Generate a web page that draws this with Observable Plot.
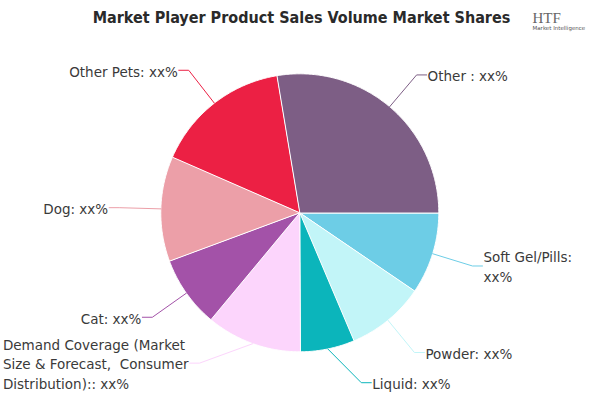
<!DOCTYPE html>
<html><head><meta charset="utf-8">
<script src="https://cdn.jsdelivr.net/npm/d3@7"></script>
<script src="https://cdn.jsdelivr.net/npm/@observablehq/plot@0.6"></script>
<style>body{margin:0;background:#fff} #chart{width:600px;height:400px;overflow:hidden}</style>
</head><body><div id="chart"></div>
<script>
const categories = ["Soft Gel/Pills","Powder","Liquid","Demand Coverage (Market Size & Forecast, Consumer Distribution)","Cat","Dog","Other Pets","Other"];
const shares = [9.5, 9.1, 6.3, 11.1, 8.3, 12.2, 15.8, 27.6];
const labels = ["Soft Gel/Pills:\nxx%","Powder: xx%","Liquid: xx%","Demand Coverage (Market\nSize & Forecast,  Consumer\nDistribution):: xx%","Cat: xx%","Dog: xx%","Other Pets: xx%","Other : xx%"];
const colors = ["#6dcde6","#c2f5f8","#0bb5bb","#fcd5fc","#a352a8","#ec9fa8","#ec2044","#7d5e85"];
const title = "Market Player Product Sales Volume Market Shares";

const W=600,H=400,CX=299.3,CY=212.3,R=139;
const FONT="'DejaVu Sans', sans-serif", FS=13.5, LH=1.45;

const total=d3.sum(shares);
let acc=0;
const slices=categories.map((c,i)=>{const a0=acc/total*2*Math.PI;acc+=shares[i];const a1=acc/total*2*Math.PI;return {cat:c,i,a0,a1,mid:(a0+a1)/2};});

const piePts=[];
for(const s of slices){
  piePts.push({cat:s.cat,x:0,y:0});
  const n=Math.max(2,Math.ceil((s.a1-s.a0)/0.01));
  for(let k=0;k<=n;k++){const a=s.a0+(s.a1-s.a0)*k/n;piePts.push({cat:s.cat,x:Math.cos(a),y:Math.sin(a)});}
}

const ctx=document.createElement("canvas").getContext("2d");
ctx.font=`${FS}px ${FONT}`;
const leaderPts=[],labelData=[];
for(const s of slices){
  const lines=labels[s.i].split("\n");
  const blockW=d3.max(lines,l=>ctx.measureText(l).width);
  let th=s.mid;
  const right=Math.cos(th)>=0;
  const ER=1.3;
  const bound=H-8-lines.length*FS*LH/2;
  let ey=CY+ER*R*Math.sin(th);
  if(ey>bound){const sn=(bound-CY)/(ER*R);th=right?Math.asin(sn):Math.PI-Math.asin(sn);}
  const ex=Math.cos(th)*ER, eyd=Math.sin(th)*ER;
  const hx=ex+(right?10:-10)/R;
  leaderPts.push({cat:s.cat,x:Math.cos(s.mid),y:Math.sin(s.mid)},{cat:s.cat,x:ex,y:eyd},{cat:s.cat,x:hx,y:eyd});
  const tx=right?hx+1/R:hx-(1+blockW)/R;
  labelData.push({cat:s.cat,label:labels[s.i],x:tx,y:eyd});
}

const chart=Plot.plot({
  width:W,height:H,margin:0,
  x:{domain:[-1,1],range:[CX-R,CX+R],axis:null},
  y:{domain:[-1,1],range:[CY-R,CY+R],axis:null},
  color:{domain:categories,range:colors},
  style:{fontFamily:FONT,background:"white",overflow:"hidden"},
  marks:[
    Plot.line(piePts,{x:"x",y:"y",z:"cat",fill:"cat",stroke:"white",strokeWidth:1,curve:"linear-closed"}),
    Plot.line(leaderPts,{x:"x",y:"y",z:"cat",stroke:"cat",strokeWidth:1}),
    Plot.text(labelData,{x:"x",y:"y",text:"label",textAnchor:"start",lineAnchor:"middle",fontSize:FS,lineHeight:LH,fill:"#3a3a3a"}),
    Plot.text([title],{frameAnchor:"top-left",dx:301,dy:11,textAnchor:"middle",fontSize:16,fontWeight:"bold",fontFamily:"'DejaVu Sans Condensed','DejaVu Sans',sans-serif",fill:"#2a2a2a",ariaLabel:"title"}),
    Plot.text(["HTF"],{frameAnchor:"top-left",dx:532,dy:12,textAnchor:"start",fontSize:15,fontFamily:"'Liberation Serif',serif",fill:"#666"}),
    Plot.text(["Market Intelligence"],{frameAnchor:"top-left",dx:532,dy:25.5,textAnchor:"start",fontSize:5.5,fill:"#555",ariaLabel:"logo-sub"})
  ]
});
document.getElementById("chart").appendChild(chart);
const t=chart.querySelector('g[aria-label="title"] text');
if(t){t.setAttribute("textLength",328);t.setAttribute("lengthAdjust","spacingAndGlyphs");}
const s2=chart.querySelector('g[aria-label="logo-sub"] text');
if(s2){s2.setAttribute("textLength",48);s2.setAttribute("lengthAdjust","spacingAndGlyphs");}
</script></body></html>
